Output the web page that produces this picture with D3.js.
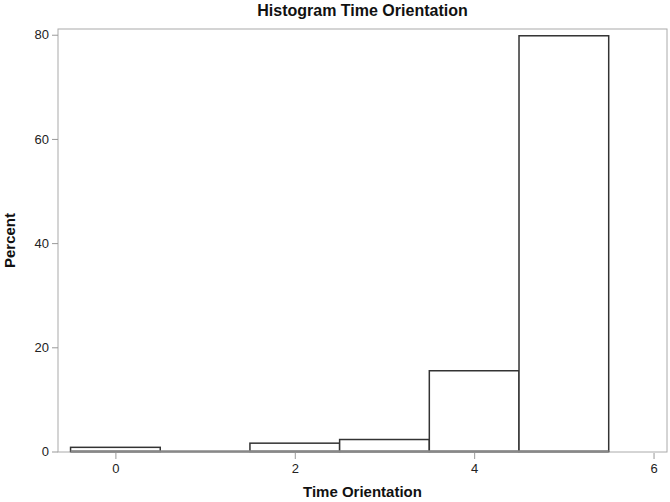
<!DOCTYPE html>
<html lang="en">
<head>
  <meta charset="UTF-8">
  <script src="https://d3js.org/d3.v7.min.js"></script>
  <title>Histogram Time Orientation</title>
  <style>
    body { margin: 0; background: #fff; }
    .tick text { font-family: "Liberation Sans", Arial, sans-serif; font-size: 13px; fill: #222; }
    .tick line { stroke: #999; }
    .domain { display: none; }
    .title, .axis-label {
      font-family: "Liberation Sans Narrow", "Arial Narrow", "Liberation Sans", sans-serif;
      font-weight: bold;
      fill: #111;
    }
  </style>
</head>
<body>
  <svg width="670" height="502"></svg>

  <script>
    const width = 670, height = 502;
    const margin = { top: 29, right: 3, bottom: 50, left: 58 };

    // histogram bins (midpoints) and percent per bin
    const binMids = [0, 1, 2, 3, 4, 5];
    const percents = [0.8, 0, 1.6, 2.3, 15.5, 79.8];
    const xTicks = [0, 2, 4, 6];
    const yTicks = [0, 20, 40, 60, 80];

    const svg = d3.select("svg");

    const x = d3.scaleLinear()
      .domain([-0.64, 6.15])
      .range([margin.left, width - margin.right]);

    const y = d3.scaleLinear()
      .domain([0, 81.1])
      .range([height - margin.bottom - 0.5, margin.top]);

    // plot frame
    svg.append("rect")
      .attr("x", margin.left)
      .attr("y", margin.top)
      .attr("width", width - margin.left - margin.right)
      .attr("height", height - margin.top - margin.bottom)
      .attr("fill", "none")
      .attr("stroke", "#aaa")
      .attr("stroke-width", 1);

    // bars
    const bins = binMids.map((m, i) => ({ x0: m - 0.5, x1: m + 0.5, v: percents[i] }));

    svg.append("g")
      .selectAll("rect")
      .data(bins)
      .enter()
      .append("rect")
      .attr("x", d => x(d.x0))
      .attr("y", d => y(d.v))
      .attr("width", d => x(d.x1) - x(d.x0))
      .attr("height", d => y(0) - y(d.v))
      .attr("fill", "#fff")
      .attr("stroke", "#333")
      .attr("stroke-width", 1.5);

    // baseline under the bars
    svg.append("line")
      .attr("x1", x(-0.5))
      .attr("x2", x(5.5))
      .attr("y1", y(0))
      .attr("y2", y(0))
      .attr("stroke", "#888")
      .attr("stroke-width", 2.5);

    // axes
    svg.append("g")
      .attr("transform", `translate(0,${height - margin.bottom + 1})`)
      .call(d3.axisBottom(x).tickValues(xTicks).tickSize(6).tickPadding(5).tickFormat(d3.format("d")));

    svg.append("g")
      .attr("transform", `translate(${margin.left},0)`)
      .call(d3.axisLeft(y).tickValues(yTicks).tickSize(6).tickPadding(3).tickFormat(d3.format("d")));

    const cx = (margin.left + width - margin.right) / 2;

    svg.append("text")
      .attr("class", "title")
      .attr("x", cx)
      .attr("y", 16)
      .attr("text-anchor", "middle")
      .style("font-size", "16px")
      .text("Histogram Time Orientation");

    svg.append("text")
      .attr("class", "axis-label")
      .attr("x", cx)
      .attr("y", 497)
      .attr("text-anchor", "middle")
      .style("font-size", "15px")
      .text("Time Orientation");

    svg.append("text")
      .attr("class", "axis-label")
      .attr("transform", `translate(15,${(margin.top + height - margin.bottom) / 2}) rotate(-90)`)
      .attr("text-anchor", "middle")
      .style("font-size", "15px")
      .text("Percent");
  </script>
</body>
</html>
